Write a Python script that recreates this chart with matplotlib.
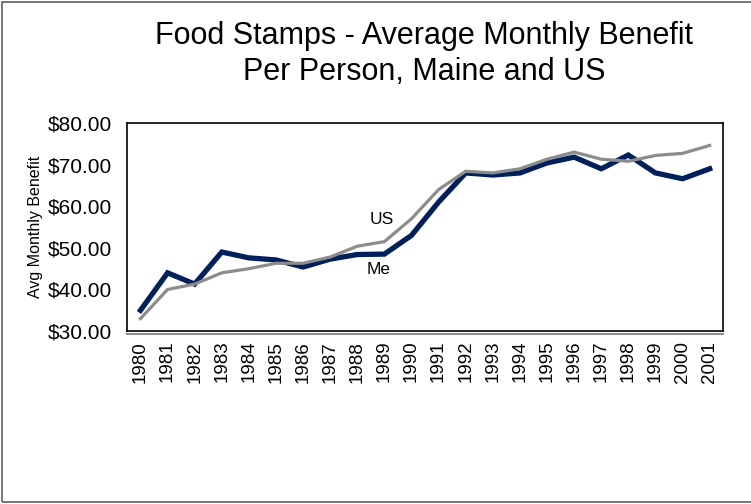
import matplotlib
matplotlib.use("Agg")
import matplotlib.pyplot as plt
from matplotlib.patches import Rectangle
from matplotlib.lines import Line2D

plt.rcParams["font.family"] = ["Liberation Sans", "DejaVu Sans"]

# Food Stamps average monthly benefit per person
years = [str(y) for y in range(1980, 2002)]
maine = [35.0, 44.0, 41.3, 49.0, 47.6, 47.1, 45.4, 47.3, 48.4, 48.5, 53.0, 61.0,
         68.0, 67.5, 68.0, 70.4, 71.8, 69.0, 72.3, 68.0, 66.6, 69.0]
us = [33.0, 40.0, 41.3, 44.0, 45.0, 46.3, 46.3, 47.8, 50.4, 51.5, 57.0, 64.0,
      68.4, 68.0, 69.0, 71.3, 73.0, 71.3, 70.8, 72.2, 72.7, 74.6]
y_ticks = [30, 40, 50, 60, 70, 80]

fig = plt.figure(figsize=(7.51, 5.04), dpi=100)
ax = fig.add_axes([0.169, 0.343, 0.794, 0.413])

x = list(range(len(years)))
ax.plot(x, us, color="#8c8c8c", linewidth=2.3, solid_joinstyle="miter", zorder=3)
ax.plot(x, maine, color="#00205b", linewidth=3.8, solid_joinstyle="miter", zorder=2)

ax.set_xlim(-0.5, len(years) - 0.5)
ax.set_ylim(30, 80)
ax.set_xticks(x)
ax.set_xticklabels(years, rotation=90, fontsize=13.5)
ax.set_yticks(y_ticks)
ax.set_yticklabels([f"${v:.2f}" for v in y_ticks], fontsize=15)
ax.tick_params(axis="x", length=0, pad=7)
ax.tick_params(axis="y", length=0, pad=11)
for sp in ax.spines.values():
    sp.set_color("black")
    sp.set_linewidth(1.2)

# shadow under plot frame
ax.add_line(Line2D([0.0, 1.0], [-0.012, -0.012], transform=ax.transAxes,
                   color="#909090", linewidth=1.5, clip_on=False))

ax.set_ylabel("Avg Monthly Benefit", fontsize=11.5)
ax.yaxis.set_label_coords(-0.14, 0.5)

ax.text(8.9, 56.7, "US", fontsize=12.5, ha="center", va="center")
ax.text(8.8, 44.8, "Me", fontsize=12.5, ha="center", va="center")

fig.text(0.565, 0.893, "Food Stamps - Average Monthly Benefit\nPer Person, Maine and US",
         fontsize=22, ha="center", va="center", linespacing=1.25)

# outer frame of the chart (right edge is cut off in the original)
fig.patches.append(Rectangle((0.003, 0.003), 1.1, 0.994, transform=fig.transFigure,
                             fill=False, edgecolor="#606060", linewidth=1.2))

fig.savefig("out.png", dpi=100)
